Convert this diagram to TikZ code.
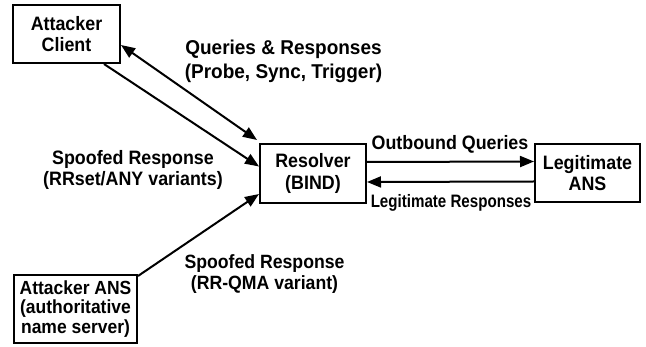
\documentclass[tikz,border=0pt]{standalone}
\usepackage{fontspec}
\setmainfont{Liberation Sans}[FakeStretch=0.92]
\newfontfamily\condfont{Liberation Sans}[FakeStretch=0.84]
\newfontfamily\topfont{Liberation Sans}[FakeStretch=0.95]
\usetikzlibrary{arrows.meta}
\tikzset{
  ent/.style={draw, line width=2pt, align=center, inner sep=0pt,
    font=\fontsize{19.4}{21.7}\selectfont\bfseries},
  lbl/.style={align=center, inner sep=0pt, font=\fontsize{19.4}{21.7}\selectfont\bfseries},
  conn/.style={line width=2pt, -{Triangle[length=14pt,width=11pt]}},
  conn2/.style={line width=2pt, {Triangle[length=14pt,width=11pt]}-{Triangle[length=14pt,width=11pt]}}
}
\begin{document}
\begin{tikzpicture}[x=1pt,y=-1pt]
\useasboundingbox (0,0) rectangle (646,347);
\node[ent, minimum width=107pt, minimum height=58pt] (AC) at (66.5,34) {Attacker\\Client};
\node[ent, minimum width=106pt, minimum height=59pt] (RES) at (313,173.5) {Resolver\\(BIND)};
\node[ent, minimum width=105pt, minimum height=58pt] (LA) at (587.5,173) {Legitimate\\ANS};
\node[ent, minimum width=123pt, minimum height=68pt,
  font=\fontsize{19}{19.5}\selectfont\bfseries] (AA) at (75.5,309) {Attacker ANS\\(authoritative\\name server)};

\draw[conn2] ([yshift=-11pt]AC.east) -- ([shift={(-2pt,3pt)}]RES.north west);
\draw[conn] ([xshift=-17pt]AC.south east) -- ([yshift=7pt]RES.west);
\draw[conn] ([yshift=-2pt]AA.north east) -- ([yshift=10pt]RES.south west);
\draw[conn] ([yshift=11.5pt]RES.east) -- ([yshift=11.5pt]LA.west);
\draw[conn] ([yshift=-8.5pt]LA.west) -- ([yshift=-8.5pt]RES.east);

\node[lbl, font=\topfont\fontsize{20}{24}\selectfont\bfseries] (L1) at (283.5,61) {Queries \& Responses\\(Probe, Sync, Trigger)};
\node[lbl] (L2) at (133,170) {Spoofed Response\\(RRset/ANY variants)};
\node[lbl, font=\fontsize{19.2}{20.5}\selectfont\bfseries] (L3) at (264.5,274) {Spoofed Response\\(RR-QMA variant)};
\node[lbl] (L4) at (450,144) {Outbound Queries};
\node[lbl, font=\condfont\fontsize{18}{20}\selectfont\bfseries] (L5) at (451,203) {Legitimate Responses};
\end{tikzpicture}
\end{document}
